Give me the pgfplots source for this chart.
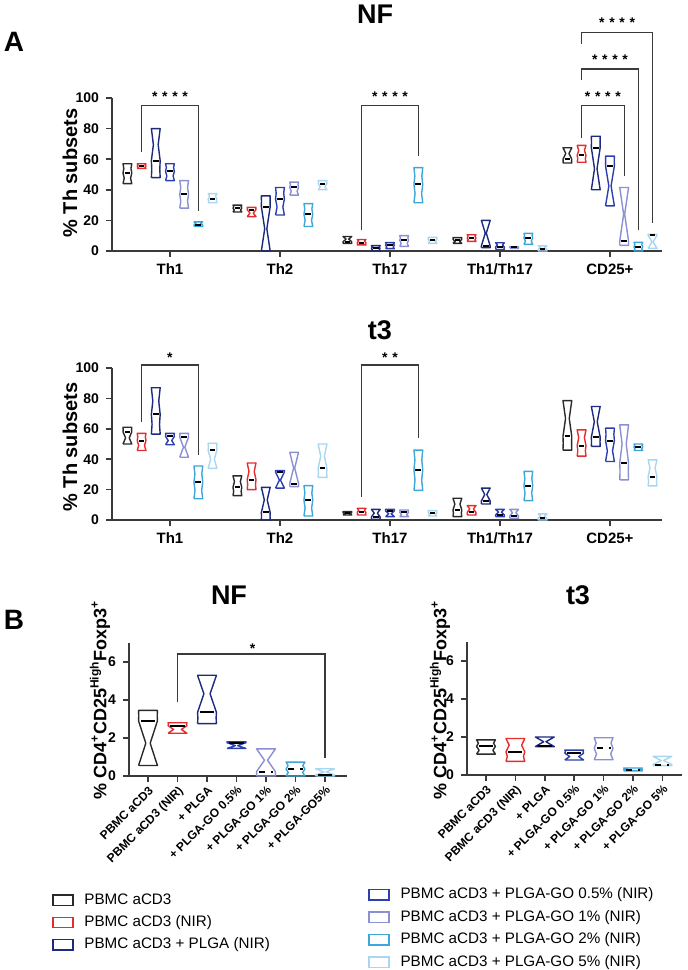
\documentclass[border=0pt]{standalone}
\usepackage{fontspec}
\setmainfont{Liberation Sans}
\usepackage{pgfplots}
\pgfplotsset{compat=1.18}
\definecolor{c0}{HTML}{2A2A2A}
\definecolor{c1}{HTML}{E52D2D}
\definecolor{c2}{HTML}{1C2A80}
\definecolor{c3}{HTML}{2C3FAE}
\definecolor{c4}{HTML}{8B8FD4}
\definecolor{c5}{HTML}{3EA6D9}
\definecolor{c6}{HTML}{A9D6F2}
\definecolor{axc}{HTML}{3A3A3A}
% violin: #1 x, #2 series, #3 min, #4 median, #5 max, #6 half width, #7 median style, #8 median fraction
\newcommand{\vio}[8]{%
 \pgfmathsetmacro\vvR{max(#5-#3,0.0001)}%
 \pgfmathsetmacro\vvrl{(#4-#3)/\vvR}%
 \pgfmathsetmacro\vvrh{(#5-#4)/\vvR}%
 \pgfmathsetmacro\vvfl{max(0.12,1-1.3*\vvrl*\vvrl*sqrt(\vvrl))}%
 \pgfmathsetmacro\vvfh{max(0.12,1-1.3*\vvrh*\vvrh*sqrt(\vvrh))}%
 \pgfmathsetmacro\vvxa{#1-#6}\pgfmathsetmacro\vvxb{#1+#6}%
 \pgfmathsetmacro\vvla{#1-#6*\vvfl}\pgfmathsetmacro\vvlb{#1+#6*\vvfl}%
 \pgfmathsetmacro\vvha{#1-#6*\vvfh}\pgfmathsetmacro\vvhb{#1+#6*\vvfh}%
 \pgfmathsetmacro\vvyl{(#3+#4)/2}\pgfmathsetmacro\vvyh{(#4+#5)/2}%
 \pgfmathsetmacro\vvma{#1-#8*#6}\pgfmathsetmacro\vvmb{#1+#8*#6}%
 \addplot[forget plot, draw=c#2, line width=0.7pt, line join=round] coordinates {(\vvxa,#3) (\vvxb,#3) (\vvlb,\vvyl) (\vvxb,#4) (\vvhb,\vvyh) (\vvxb,#5) (\vvxa,#5) (\vvha,\vvyh) (\vvxa,#4) (\vvla,\vvyl) (\vvxa,#3)};
 \addplot[forget plot, black, line width=1pt, #7] coordinates {(\vvma,#4) (\vvmb,#4)};
}
\newcommand{\va}[5]{\pgfmathsetmacro\vvx{#1+(#2-3)*0.129}\vio{\vvx}{#2}{#3}{#4}{#5}{0.04}{solid}{0.65}}
\newcommand{\vb}[5][solid]{\vio{#2}{#2}{#3}{#4}{#5}{0.32}{#1}{0.75}}
\tikzset{stars/.style={font=\bfseries\fontsize{7}{7}\selectfont, yshift=-1.5pt}}
\pgfplotsset{
 common/.style={scale only axis, clip=false, axis lines*=left,
  axis line style={draw=axc, line width=0.8pt},
  tick style={draw=axc, line width=0.8pt}, tick align=outside,
  major tick length=3pt,
  /pgf/number format/assume math mode=true,
  ticklabel style={font=\bfseries\fontsize{7}{8}\selectfont, text=black}},
 panelA/.style={common, width=275pt, height=76.5pt, xmin=-0.527, xmax=4.473,
  ymin=0, ymax=100, ytick={0,20,...,100}, xtick={0,1,2,3,4},
  xticklabels={Th1,Th2,Th17,Th1/Th17,CD25+},
  xticklabel style={font=\bfseries\fontsize{7.5}{8}\selectfont}},
 panelB/.style={common, width=109pt, height=66.5pt, xmin=-0.644, xmax=6.746,
  ymin=0, ymax=7, ytick={0,2,4,6}, xtick={0,...,6},
  xticklabel style={rotate=45, anchor=north east, font=\bfseries\fontsize{6}{7}\selectfont, inner sep=1pt}},
 brk/.style={forget plot, draw=axc, line width=0.6pt},
 leg/.style={legend image code/.code={\draw[##1, line width=0.7pt] (0pt,-2.6pt) rectangle (10pt,2.6pt); \path (13.5pt,0pt);},
  legend style={draw=none, fill=none, font=\fontsize{7.6}{9}\selectfont, legend cell align=left, row sep=0.2pt}}
}
\begin{document}
\begin{tikzpicture}
\path[use as bounding box] (0,0) rectangle (344pt,485pt);
% ---------------- A NF ----------------
\begin{axis}[panelA, at={(56pt,359.5pt)}, anchor=south west]
\va{0}{0}{44}{51}{57}
\va{0}{1}{54}{55.5}{57}
\va{0}{2}{48}{59}{80}
\va{0}{3}{46}{52}{57}
\va{0}{4}{28}{37}{46}
\va{0}{5}{16}{17}{19}
\va{0}{6}{31.5}{34}{37.5}
\va{1}{0}{25.5}{28}{30}
\va{1}{1}{22.5}{27}{28.5}
\va{1}{2}{0}{29}{36}
\va{1}{3}{23.5}{34}{41.5}
\va{1}{4}{36.5}{41.5}{45}
\va{1}{5}{16}{24}{31}
\va{1}{6}{40}{44}{46}
\va{2}{0}{5}{6}{9.5}
\va{2}{1}{4}{5.4}{7.5}
\va{2}{2}{0}{1.7}{3.5}
\va{2}{3}{1.5}{3.7}{5.5}
\va{2}{4}{3}{7}{10}
\va{2}{5}{31.5}{43.5}{54.5}
\va{2}{6}{5}{7.5}{9}
\va{3}{0}{5}{7.5}{8.7}
\va{3}{1}{6.3}{8.5}{10.6}
\va{3}{2}{2.2}{3.3}{20}
\va{3}{3}{1}{2.6}{5.4}
\va{3}{4}{1.7}{2.3}{2.8}
\va{3}{5}{4.3}{8.5}{11.5}
\va{3}{6}{0}{1}{3.3}
\va{4}{0}{57.5}{60}{67.5}
\va{4}{1}{58}{62.5}{69}
\va{4}{2}{40}{67.5}{75}
\va{4}{3}{29.5}{55.5}{62}
\va{4}{4}{3.7}{6.5}{41.5}
\va{4}{5}{0}{2.8}{5.7}
\va{4}{6}{1.7}{10.2}{10.9}
% brackets
\addplot[brk] coordinates {(-0.258,64.7) (-0.258,95) (0.258,95) (0.258,26)};
\addplot[brk] coordinates {(1.742,14) (1.742,95) (2.258,95) (2.258,62)};
\addplot[brk] coordinates {(3.742,74) (3.742,95) (4.129,95) (4.129,49)};
\addplot[brk] coordinates {(3.742,112) (3.742,119) (4.258,119) (4.258,14)};
\addplot[brk] coordinates {(3.742,135) (3.742,143) (4.387,143) (4.387,18)};
\node[stars] at (axis cs:0,103) {*\,\,*\,\,*\,\,*};
\node[stars] at (axis cs:2,103) {*\,\,*\,\,*\,\,*};
\node[stars] at (axis cs:3.935,103) {*\,\,*\,\,*\,\,*};
\node[stars] at (axis cs:4,127) {*\,\,*\,\,*\,\,*};
\node[stars] at (axis cs:4.065,151) {*\,\,*\,\,*\,\,*};
\end{axis}
% ---------------- A t3 ----------------
\begin{axis}[panelA, at={(56pt,225pt)}, anchor=south west, height=76pt]
\va{0}{0}{50}{58}{61}
\va{0}{1}{45.7}{52.3}{57}
\va{0}{2}{56.5}{69.5}{87}
\va{0}{3}{49.5}{55}{57}
\va{0}{4}{41.3}{54.5}{57}
\va{0}{5}{14}{25}{35.5}
\va{0}{6}{34}{46}{50.5}
\va{1}{0}{16}{21.5}{29}
\va{1}{1}{20}{26.5}{37.5}
\va{1}{2}{0}{5}{21.5}
\va{1}{3}{21}{31.5}{32.5}
\va{1}{4}{22}{24}{44.5}
\va{1}{5}{2.6}{13}{22.6}
\va{1}{6}{28}{34}{50}
\va{2}{0}{3.3}{4.8}{5.5}
\va{2}{1}{3.3}{5}{7.7}
\va{2}{2}{0.4}{2}{7}
\va{2}{3}{2.2}{6}{7}
\va{2}{4}{2.2}{5}{6.6}
\va{2}{5}{19.5}{33}{46}
\va{2}{6}{2.6}{4.8}{6.2}
\va{3}{0}{2.2}{6.6}{14.3}
\va{3}{1}{3.3}{5}{9.5}
\va{3}{2}{10.5}{12.5}{21}
\va{3}{3}{2.2}{3.3}{7}
\va{3}{4}{1.1}{2.6}{7}
\va{3}{5}{12.7}{22.6}{32}
\va{3}{6}{0}{1.1}{4}
\va{4}{0}{46}{55}{78.5}
\va{4}{1}{42}{49}{59.3}
\va{4}{2}{48.4}{54.5}{74.7}
\va{4}{3}{38.5}{52.3}{60.4}
\va{4}{4}{26.4}{37.4}{62.6}
\va{4}{5}{45.7}{48}{50}
\va{4}{6}{22.4}{28.6}{39.6}
\addplot[brk] coordinates {(-0.258,64.5) (-0.258,102) (0.258,102) (0.258,43)};
\addplot[brk] coordinates {(1.742,15) (1.742,102) (2.258,102) (2.258,54)};
\node[stars] at (axis cs:0,109) {*};
\node[stars] at (axis cs:2,109) {*\,\,*};
\end{axis}
% ---------------- B NF ----------------
\begin{axis}[panelB, leg, at={(64.5pt,97pt)}, anchor=south west,
 xticklabels={PBMC aCD3,PBMC aCD3 (NIR),+ PLGA,+ PLGA-GO 0.5\%,+ PLGA-GO 1\%,+ PLGA-GO 2\%,+ PLGA-GO5\%},
 legend style={at={(axis description cs:-0.381,-0.82)}, anchor=north west}]
\vb{0}{0.55}{2.9}{3.45}
\vb{1}{2.25}{2.65}{2.8}
\vb{2}{2.76}{3.35}{5.3}
\vb{3}{1.45}{1.75}{1.8}
\vb[dashed]{4}{0}{0.23}{1.43}
\vb[dashed]{5}{0}{0.37}{0.73}
\vb{6}{0}{0.05}{0.38}
\addplot[brk] coordinates {(1,3.9) (1,6.42) (6,6.42) (6,0.95)};
\node[stars] at (axis cs:3.55,6.85) {*};
\addlegendimage{draw=c0}\addlegendentry{PBMC aCD3}
\addlegendimage{draw=c1}\addlegendentry{PBMC aCD3 (NIR)}
\addlegendimage{draw=c2}\addlegendentry{PBMC aCD3 + PLGA (NIR)}
\end{axis}
% ---------------- B t3 ----------------
\begin{axis}[panelB, leg, at={(233.5pt,97.5pt)}, anchor=south west, width=107.5pt,
 xmin=-0.646, xmax=6.667,
 xticklabels={PBMC aCD3,PBMC aCD3 (NIR),+ PLGA,+ PLGA-GO 0.5\%,+ PLGA-GO 1\%,+ PLGA-GO 2\%,+ PLGA-GO 5\%},
 legend style={at={(axis description cs:-0.488,-0.785)}, anchor=north west}]
\vb{0}{1.1}{1.5}{1.85}
\vb{1}{0.72}{1.22}{1.92}
\vb{2}{1.49}{1.5}{2.0}
\vb{3}{0.79}{1.15}{1.31}
\vb[dashed]{4}{0.8}{1.4}{1.96}
\vb[dashed]{5}{0.22}{0.28}{0.37}
\vb[dashed]{6}{0.49}{0.55}{0.98}
\addlegendimage{draw=c3}\addlegendentry{PBMC aCD3 + PLGA-GO 0.5\% (NIR)}
\addlegendimage{draw=c4}\addlegendentry{PBMC aCD3 + PLGA-GO 1\% (NIR)}
\addlegendimage{draw=c5}\addlegendentry{PBMC aCD3 + PLGA-GO 2\% (NIR)}
\addlegendimage{draw=c6}\addlegendentry{PBMC aCD3 + PLGA-GO 5\% (NIR)}
\end{axis}
% ---------------- titles and labels ----------------
\node[font=\bfseries\fontsize{13.5}{14}\selectfont] at (187.5pt,477.75pt) {NF};
\node[font=\bfseries\fontsize{13.5}{14}\selectfont] at (190pt,320pt) {t3};
\node[font=\bfseries\fontsize{13.5}{14}\selectfont] at (114.5pt,187.5pt) {NF};
\node[font=\bfseries\fontsize{13.5}{14}\selectfont] at (289pt,187.5pt) {t3};
\node[font=\bfseries\fontsize{14}{14}\selectfont] at (7pt,464pt) {A};
\node[font=\bfseries\fontsize{14}{14}\selectfont] at (7pt,175pt) {B};
\node[font=\bfseries\fontsize{10}{10}\selectfont, rotate=90] at (35pt,398.5pt) {\% Th subsets};
\node[font=\bfseries\fontsize{10}{10}\selectfont, rotate=90] at (35pt,261.5pt) {\% Th subsets};
\node[font=\bfseries\fontsize{9}{9}\selectfont, rotate=90] at (50pt,135pt) {\% CD4\textsuperscript{+}CD25\textsuperscript{High}Foxp3\textsuperscript{+}};
\node[font=\bfseries\fontsize{9}{9}\selectfont, rotate=90] at (220pt,135pt) {\% CD4\textsuperscript{+}CD25\textsuperscript{High}Foxp3\textsuperscript{+}};
\end{tikzpicture}
\end{document}
